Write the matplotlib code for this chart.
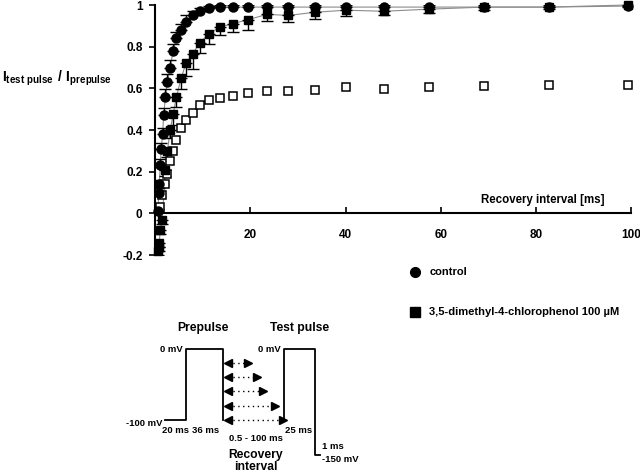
import numpy as np
import matplotlib
matplotlib.use('Agg')
import matplotlib.pyplot as plt
from matplotlib.lines import Line2D

plt.rcParams['font.family'] = ['Liberation Sans', 'DejaVu Sans']
plt.rcParams['font.weight'] = 'bold'
plt.rcParams['mathtext.fontset'] = 'custom'
plt.rcParams['mathtext.bf'] = 'Liberation Sans:bold'
plt.rcParams['mathtext.rm'] = 'Liberation Sans:bold'

# recovery data
ctrl_t = [0.6, 0.8, 0.9, 1.1, 1.3, 1.6, 1.8, 2.2, 2.6, 3.2, 3.8, 4.5, 5.4, 6.5, 7.9,
          9.4, 11.3, 13.6, 16.3, 19.6, 23.5, 28.0, 33.5, 40.0, 48.0, 57.5, 69.0, 82.6, 99.2]
ctrl_y = [0.01, 0.10, 0.14, 0.23, 0.31, 0.38, 0.47, 0.56, 0.63, 0.70, 0.78, 0.84, 0.88, 0.92, 0.95,
          0.97, 0.985, 0.99, 0.99, 0.99, 0.99, 0.99, 0.99, 0.99, 0.99, 0.99, 0.99, 0.99, 0.995]
ctrl_err = [0.01, 0.02, 0.02, 0.03, 0.03, 0.03, 0.035, 0.035, 0.04, 0.035, 0.035, 0.03, 0.03, 0.03, 0.02,
            0.015, 0.01, 0.01, 0.01, 0.01, 0.01, 0.01, 0.01, 0.01, 0.01, 0.01, 0.01, 0.01, 0.01]

drug_t = [0.6, 0.75, 0.9, 1.1, 1.5, 2.2, 2.6, 3.2, 3.8, 4.5, 5.5, 6.5, 7.9, 9.4, 11.3,
          13.6, 16.3, 19.6, 23.5, 28.0, 33.5, 40.0, 48.0, 57.5, 69.0, 82.6, 99.2]
drug_y = [-0.18, -0.16, -0.14, -0.08, -0.03, 0.21, 0.30, 0.40, 0.475, 0.56, 0.65, 0.72, 0.765, 0.82, 0.86,
          0.895, 0.91, 0.93, 0.955, 0.95, 0.965, 0.975, 0.97, 0.98, 0.99, 0.99, 1.0]
drug_err = [0.02, 0.02, 0.02, 0.02, 0.02, 0.03, 0.03, 0.04, 0.05, 0.05, 0.055, 0.06, 0.07, 0.05, 0.045,
            0.04, 0.04, 0.05, 0.03, 0.03, 0.03, 0.03, 0.02, 0.02, 0.015, 0.01, 0.01]

open_t = [1.1, 1.5, 2.2, 2.6, 3.2, 3.8, 4.5, 5.5, 6.5, 7.9, 9.4, 11.3, 13.6, 16.3, 19.6,
          23.5, 28.0, 33.5, 40.0, 48.0, 57.5, 69.0, 82.6, 99.2]
open_y = [0.03, 0.09, 0.14, 0.19, 0.25, 0.30, 0.35, 0.41, 0.45, 0.48, 0.52, 0.545, 0.555, 0.565, 0.58,
          0.585, 0.585, 0.59, 0.605, 0.595, 0.605, 0.61, 0.615, 0.615]

# pulse protocol (schematic widths, voltages in mV)
proto_t = [0, 21, 21, 58, 58]
proto_v = [-100, -100, 0, 0, -100]
test_t = [119, 119, 150, 150, 155]
test_v = [-100, 0, 0, -150, -150]
arrow_end = [83, 92, 98, 110, 118]
arrow_v = [-20, -40, -60, -80, -100]

fig = plt.figure(figsize=(6.4, 4.72), dpi=100)
ax = fig.add_axes([0.2422, 0.4597, 0.7445, 0.5297])

ax.plot(ctrl_t, ctrl_y, color='0.55', lw=0.8, zorder=2, clip_on=False)
ax.plot(drug_t, drug_y, color='0.55', lw=0.8, zorder=2, clip_on=False)
ax.errorbar(ctrl_t, ctrl_y, yerr=[np.zeros(len(ctrl_err)), ctrl_err], fmt='none',
            ecolor='black', elinewidth=1, capsize=4, zorder=3)
ax.errorbar(drug_t, drug_y, yerr=[drug_err, np.zeros(len(drug_err))], fmt='none',
            ecolor='black', elinewidth=1, capsize=4, zorder=3)
ax.plot(open_t, open_y, 's', ms=5.5, mfc='white', mec='black', mew=1.1, ls='none', zorder=4, clip_on=False)
ax.plot(drug_t, drug_y, 's', ms=6, color='black', ls='none', zorder=5, clip_on=False)
ax.plot(ctrl_t, ctrl_y, 'o', ms=6.5, color='black', ls='none', zorder=6, clip_on=False)

ax.set_xlim(0, 100)
ax.set_ylim(-0.2, 1.0)
ax.spines['top'].set_visible(False)
ax.spines['right'].set_visible(False)
ax.spines['bottom'].set_position(('data', 0))
ax.spines['left'].set_linewidth(1.5)
ax.spines['bottom'].set_linewidth(1.5)
ax.set_xticks([20, 40, 60, 80, 100])
ax.set_yticks([-0.2, 0, 0.2, 0.4, 0.6, 0.8, 1.0])
ax.set_yticklabels(['-0.2', '0', '0.2', '0.4', '0.6', '0.8', '1'])
ax.tick_params(axis='x', direction='in', length=4, width=1.2, pad=11, labelsize=8.5)
ax.tick_params(axis='y', direction='out', length=4, width=1.2, pad=5, labelsize=8.5)
for lab in ax.get_xticklabels() + ax.get_yticklabels():
    lab.set_fontweight('bold')
ax.text(94.3, 0.035, 'Recovery interval [ms]', ha='right', va='bottom', fontsize=8.3, fontweight='bold')

fig.text(0.003, 1 - 78 / 472,
         r'$\mathbf{I}_{\mathbf{test\ pulse}}\ \mathbf{/\ I}_{\mathbf{prepulse}}$',
         fontsize=10, va='center', ha='left')

handles = [Line2D([], [], marker='o', color='black', ls='none', ms=7),
           Line2D([], [], marker='s', color='black', ls='none', ms=6.5)]
fig.legend(handles, ['control', '3,5-dimethyl-4-chlorophenol 100 µM'],
           loc='upper left', bbox_to_anchor=(405 / 640, 1 - 263 / 472), frameon=False,
           prop={'weight': 'bold', 'size': 8}, labelspacing=2.7, handlelength=1.0,
           handletextpad=0.8, borderaxespad=0)

# protocol inset
pax = fig.add_axes([165 / 640, 1 - 455 / 472, 155 / 640, 106 / 472])
pax.set_xlim(0, 155)
pax.set_ylim(-150, 0)
pax.axis('off')
pax.plot(proto_t, proto_v, color='black', lw=1.3, clip_on=False)
pax.plot(test_t, test_v, color='black', lw=1.3, clip_on=False)
for xe, v in zip(arrow_end, arrow_v):
    pax.plot([63, xe], [v, v], color='black', lw=1, ls=(0, (1, 2.5)), clip_on=False)
    pax.plot([63], [v], marker='<', color='black', ms=6, clip_on=False)
    pax.plot([xe], [v], marker='>', color='black', ms=6, clip_on=False)

kw = dict(fontweight='bold', clip_on=False)
pax.text(38, 30, 'Prepulse', ha='center', va='center', fontsize=8.7, **kw)
pax.text(135, 30, 'Test pulse', ha='center', va='center', fontsize=8.7, **kw)
pax.text(18, 0, '0 mV', ha='right', va='center', fontsize=6.8, **kw)
pax.text(116, 0, '0 mV', ha='right', va='center', fontsize=6.8, **kw)
pax.text(-2, -106, '-100 mV', ha='right', va='center', fontsize=6.8, **kw)
pax.text(11, -115, '20 ms', ha='center', va='center', fontsize=6.8, **kw)
pax.text(41, -115, '36 ms', ha='center', va='center', fontsize=6.8, **kw)
pax.text(91, -126, '0.5 - 100 ms', ha='center', va='center', fontsize=6.8, **kw)
pax.text(134, -115, '25 ms', ha='center', va='center', fontsize=6.8, **kw)
pax.text(91, -150, 'Recovery', ha='center', va='center', fontsize=8.7, **kw)
pax.text(91, -167, 'interval', ha='center', va='center', fontsize=8.7, **kw)
pax.text(157, -138, '1 ms', ha='left', va='center', fontsize=6.8, **kw)
pax.text(157, -157, '-150 mV', ha='left', va='center', fontsize=6.8, **kw)

fig.savefig('out.png', dpi=100)
